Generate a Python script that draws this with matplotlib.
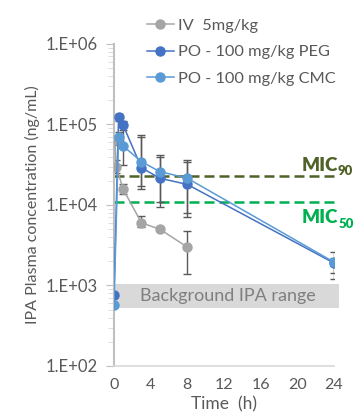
import matplotlib.pyplot as plt
import numpy as np

# IV 5 mg/kg
t_iv = [0.083, 0.25, 1, 3, 5, 8]
iv = [64000, 30000, 15700, 6000, 5000, 3000]
iv_lo = [55000, 25000, 13500, 5400, 4800, 1400]
iv_hi = [72000, 36000, 18000, 7200, 5200, 4700]

# PO 100 mg/kg PEG
t_po = [0, 0.5, 1, 3, 5, 8, 24]
peg = [760, 125000, 98000, 29000, 21500, 18000, 1900]
peg_lo = [760, 110000, 85000, 15700, 9500, 7100, 1440]
peg_hi = [760, 135000, 110000, 74000, 42000, 36000, 2630]

# PO 100 mg/kg CMC
cmc = [580, 69000, 54000, 34500, 26000, 21500, 1950]
cmc_lo = [580, 60000, 31400, 17000, 11000, 8000, 1210]
cmc_hi = [580, 80000, 108000, 70000, 40000, 34000, 2200]

mic90 = 23000
mic50 = 11000
bg_range = [530, 1050]

plt.rcParams['font.family'] = ['Lato', 'DejaVu Sans']

fig = plt.figure(figsize=(3.56, 4.15), dpi=100)
ax = fig.add_axes([0.3202, 0.1181, 0.618, 0.7759])

grey_txt = '#595959'
errc = '#595959'
olive = '#4F6228'
green = '#00B050'

# background band
ax.fill_between([0, 24.6], bg_range[0], bg_range[1], color='#D9D9D9', lw=0,
                zorder=0, clip_on=False)
ax.text(12.4, np.sqrt(bg_range[0] * bg_range[1]), 'Background IPA range',
        ha='center', va='center', fontsize=13, color='#7F7F7F')

# MIC lines
ax.plot([0, 24.3], [mic90, mic90], ls=(0, (4, 2)), color=olive, lw=1.8,
        clip_on=False, zorder=1)
ax.plot([0, 24.3], [mic50, mic50], ls=(0, (4, 2)), color=green, lw=1.8,
        clip_on=False, zorder=1)
ax.text(24.45, 26700, 'MIC', fontsize=13.5, fontweight='heavy', color=olive,
        ha='right', va='baseline')
ax.text(24.45, 23600, '90', fontsize=9.5, fontweight='heavy', color=olive,
        ha='left', va='baseline')
ax.text(24.45, 5970, 'MIC', fontsize=13.5, fontweight='heavy', color=green,
        ha='right', va='baseline')
ax.text(24.45, 5180, '50', fontsize=9.5, fontweight='heavy', color=green,
        ha='left', va='baseline')

def series(t, y, lo, hi, color, label):
    y = np.array(y)
    yerr = [y - np.array(lo), np.array(hi) - y]
    ax.errorbar(t, y, yerr=yerr, fmt='none', ecolor=errc, elinewidth=1,
                capsize=3, capthick=1, zorder=2)
    ax.plot(t, y, color=color, lw=1.1, marker='o', markersize=6.5,
            label=label, zorder=3)

series(t_iv, iv, iv_lo, iv_hi, '#A5A5A5', 'IV  5mg/kg')
series(t_po, peg, peg_lo, peg_hi, '#4472C4', 'PO - 100 mg/kg PEG')
series(t_po, cmc, cmc_lo, cmc_hi, '#5B9BD5', 'PO - 100 mg/kg CMC')

ax.set_yscale('log')
ax.set_ylim(100, 1e6)
ax.set_xlim(0, 24)
ax.set_xticks([0, 4, 8, 12, 16, 20, 24])
ax.set_yticks([1e2, 1e3, 1e4, 1e5, 1e6])
ax.set_yticklabels(['1.E+02', '1.E+03', '1.E+04', '1.E+05', '1.E+06'])
ax.tick_params(axis='y', which='major', length=6, color='#BFBFBF',
               labelsize=12, labelcolor=grey_txt, pad=6)
ax.tick_params(axis='y', which='minor', length=4, color='#D9D9D9')
ax.tick_params(axis='x', length=0, labelsize=11.5, labelcolor=grey_txt, pad=9)

for s in ['top', 'right']:
    ax.spines[s].set_visible(False)
ax.spines['left'].set_color('#BFBFBF')
ax.spines['bottom'].set_color('#D9D9D9')
ax.spines['left'].set_linewidth(1.5)
ax.spines['bottom'].set_linewidth(1.2)

ax.set_xlabel('Time  (h)', fontsize=12.5, color=grey_txt, labelpad=3)
ax.set_ylabel('IPA Plasma concentration (ng/mL)', fontsize=11.5, color=grey_txt,
              labelpad=4)

ax.legend(loc='upper left', bbox_to_anchor=(0.412, 0.955), bbox_transform=fig.transFigure,
          frameon=False, fontsize=11.8, labelcolor=grey_txt, handlelength=1.65,
          handletextpad=0.25, labelspacing=0.72, borderaxespad=0, borderpad=0)

fig.savefig('out.png', dpi=100)
